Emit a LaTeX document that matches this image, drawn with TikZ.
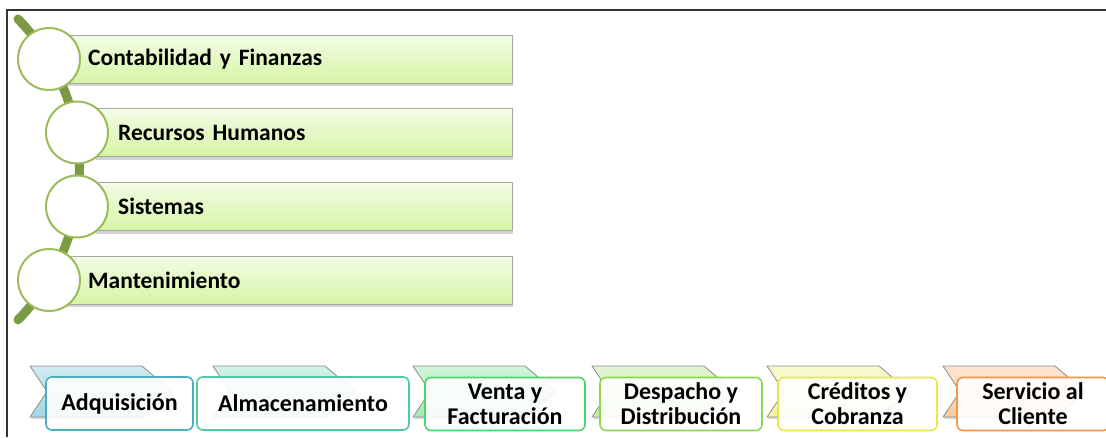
\documentclass[tikz,border=0pt]{standalone}
\usepackage{fontspec}
\setmainfont{Carlito}
\usetikzlibrary{shadows}
\definecolor{ramo}{HTML}{7A9A44}
\definecolor{aro}{HTML}{9BBB59}
\definecolor{barTop}{HTML}{F3FCE6}
\definecolor{barBot}{HTML}{D6F5A6}
\definecolor{azul}{HTML}{4BACC6}
\definecolor{menta}{HTML}{4EC9A0}
\definecolor{verde}{HTML}{4CD36A}
\definecolor{lima}{HTML}{8AD84B}
\definecolor{amarillo}{HTML}{E6E84A}
\definecolor{naranja}{HTML}{F79646}
\begin{document}
\begin{tikzpicture}[x=1pt, y=-1pt,
  bar/.style={draw=black!35, top color=barTop, bottom color=barBot, minimum height=48pt, inner xsep=23pt, align=left, anchor=west,
    font=\fontsize{23.5}{26}\selectfont\bfseries, drop shadow={shadow xshift=1pt, shadow yshift=-3pt, opacity=.35}},
  ring/.style={circle, draw=aro, line width=2pt, fill=white, minimum size=62pt, inner sep=0pt},
  chev/.style={draw=black!45, line width=.8pt, drop shadow={shadow xshift=1pt, shadow yshift=-2pt, opacity=.3}},
  card/.style={draw=#1, line width=1.6pt, rounded corners=6pt, fill=white, fill opacity=.9, text opacity=1,
    minimum height=53pt, inner sep=2pt, align=center, font=\fontsize{24}{25}\selectfont\bfseries}]
\useasboundingbox (0,0) rectangle (1106,437);
\draw[line width=1.5pt, black!80](7,437)--(7,10)--(1106,10);
% areas de apoyo
\draw[ramo, line width=9pt, line cap=round](18,19) arc[start angle=-44.4, end angle=44.4, radius=215];
\node[bar, text width=401pt] (conta) at (65,59) {Contabilidad y Finanzas};
\node[bar, text width=371pt] (rrhh) at (95,132.5) {Recursos Humanos};
\node[bar, text width=371pt] (sist) at (95,206.5) {Sistemas};
\node[bar, text width=401pt] (mant) at (65,280) {Mantenimiento};
\node[ring] (c1) at (49,59) {};
\node[ring] (c2) at (77,132.5) {};
\node[ring] (c3) at (77,206.5) {};
\node[ring] (c4) at (49,280) {};
% cadena de procesos
\foreach \l/\c in {30/azul, 213/menta, 413/verde, 592/lima, 767/amarillo, 943/naranja}
{
    \draw[chev, top color=\c!25, bottom color=\c!50](\l,366)--++(112,0)--++(30,25.5)--++(-30,25.5)--++(-112,0)--++(17,-25.5)--cycle;
}
\node[card=azul, minimum width=147pt] (adq) at (119.5,403.5) {Adquisición};
\node[card=menta, minimum width=212pt] (alm) at (303,403.5) {Almacenamiento};
\node[card=verde, minimum width=160pt] (vta) at (505,404) {Venta y\\Facturación};
\node[card=lima, minimum width=162pt] (desp) at (681,404) {Despacho y\\Distribución};
\node[card=amarillo, minimum width=159pt] (cred) at (857.5,404) {Créditos y\\Cobranza};
\node[card=naranja, minimum width=152pt] (serv) at (1033,404) {Servicio al\\Cliente};
\end{tikzpicture}
\end{document}
